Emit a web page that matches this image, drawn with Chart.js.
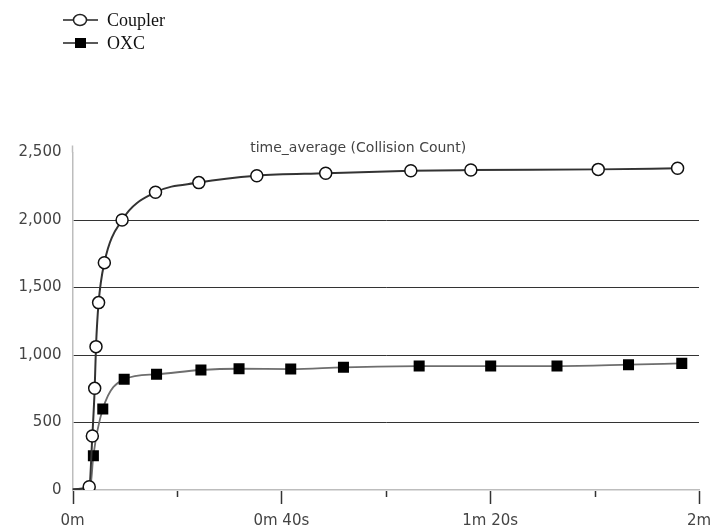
<!DOCTYPE html>
<html>
<head>
<meta charset="utf-8">
<script src="https://cdn.jsdelivr.net/npm/chart.js@4.4.1/dist/chart.umd.min.js"></script>
<style>
  html, body { margin: 0; padding: 0; background: #fff; }
  #wrap { width: 716px; height: 531px; position: relative; }
</style>
</head>
<body>
<div id="wrap"><canvas id="chart"></canvas></div>
<script>
// Datos (tiempo en segundos, conteo de colisiones)
const seriesNames = ['Coupler', 'OXC'];
const couplerTime = [0, 3.2, 3.8, 4.25, 4.5, 5.0, 6.1, 9.5, 15.9, 24.2, 35.3, 48.5, 64.8, 76.3, 100.7, 115.9];
const couplerCount = [5, 24, 400, 753, 1062, 1388, 1684, 2000, 2205, 2277, 2328, 2346, 2365, 2370, 2375, 2383];
const oxcTime = [0, 3.4, 4.0, 5.8, 9.9, 16.1, 24.6, 31.9, 41.8, 51.9, 66.4, 80.1, 92.8, 106.5, 116.7];
const oxcCount = [5, 20, 254, 600, 820, 857, 889, 898, 896, 909, 918, 918, 918, 928, 938];
// puntos iniciales sin marcador
const couplerUnmarked = 1;
const oxcUnmarked = 2;

const xTickValues = [0, 20, 40, 60, 80, 100, 120];
const xTickLabels = ['0m', '', '0m 40s', '', '1m 20s', '', '2m'];
const yTicks = [0, 500, 1000, 1500, 2000, 2500];
const chartTitle = 'time_average (Collision Count)';

function toPoints(xs, ys) {
    return xs.map((x, i) => ({ x: x, y: ys[i] }));
}

// Título dentro del área, arriba
const titlePlugin = {
    id: 'innerTitle',
    afterDraw(chart) {
        const { ctx, chartArea } = chart;
        ctx.save();
        ctx.font = '14px "DejaVu Sans"';
        ctx.fillStyle = '#444';
        ctx.textAlign = 'center';
        ctx.textBaseline = 'middle';
        const cx = chartArea.left + (chartArea.right - chartArea.left) * 0.456;
        ctx.fillText(chartTitle, cx, chartArea.top - 4);
        ctx.restore();
    }
};

// Marcas del eje X (mayores con etiqueta, menores sin ella)
const tickMarksPlugin = {
    id: 'tickMarks',
    afterDraw(chart) {
        const { ctx, chartArea } = chart;
        const xs = chart.scales.x;
        ctx.save();
        ctx.strokeStyle = '#333';
        ctx.lineWidth = 1.5;
        xTickValues.forEach((v, i) => {
            const px = Math.round(xs.getPixelForValue(v)) + 0.5;
            const len = xTickLabels[i] ? 13 : 6;
            ctx.beginPath();
            ctx.moveTo(px, chartArea.bottom + 1);
            ctx.lineTo(px, chartArea.bottom + 1 + len);
            ctx.stroke();
        });
        // el eje Y sobresale un poco por arriba
        ctx.strokeStyle = '#bdbdbd';
        ctx.beginPath();
        ctx.moveTo(chartArea.left, chartArea.top - 7);
        ctx.lineTo(chartArea.left, chartArea.top);
        ctx.stroke();
        ctx.restore();
    }
};

// Leyenda arriba a la izquierda
const legendPlugin = {
    id: 'topLegend',
    afterDraw(chart) {
        const ctx = chart.ctx;
        const rows = [20, 43];
        ctx.save();
        chart.data.datasets.forEach((ds, i) => {
            const y = rows[i];
            ctx.strokeStyle = '#222';
            ctx.lineWidth = 1.5;
            ctx.beginPath();
            ctx.moveTo(63, y);
            ctx.lineTo(98, y);
            ctx.stroke();
            if (i === 0) {
                ctx.beginPath();
                ctx.ellipse(80, y, 6.5, 5.5, 0, 0, Math.PI * 2);
                ctx.fillStyle = '#fff';
                ctx.fill();
                ctx.stroke();
            } else {
                ctx.fillStyle = '#000';
                ctx.fillRect(75, y - 5, 11, 10);
            }
            ctx.fillStyle = '#111';
            ctx.font = '18px "Liberation Serif"';
            ctx.textAlign = 'left';
            ctx.textBaseline = 'middle';
            ctx.fillText(ds.label, 107, y + 1);
        });
        ctx.restore();
    }
};

const ctx = document.getElementById('chart').getContext('2d');
new Chart(ctx, {
    type: 'line',
    data: {
        datasets: [{
            label: seriesNames[0],
            data: toPoints(couplerTime, couplerCount),
            borderColor: '#333',
            borderWidth: 2,
            cubicInterpolationMode: 'monotone',
            pointStyle: 'circle',
            pointRadius: c => c.dataIndex < couplerUnmarked ? 0 : 6,
            pointBackgroundColor: '#fff',
            pointBorderColor: '#111',
            pointBorderWidth: 1.5
        }, {
            label: seriesNames[1],
            data: toPoints(oxcTime, oxcCount),
            borderColor: '#6e6e6e',
            borderWidth: 1.8,
            cubicInterpolationMode: 'monotone',
            pointStyle: 'rect',
            pointRadius: c => c.dataIndex < oxcUnmarked ? 0 : 7.8,
            pointBackgroundColor: '#000',
            pointBorderColor: '#000',
            pointBorderWidth: 0
        }]
    },
    options: {
        responsive: true,
        maintainAspectRatio: false,
        animation: false,
        layout: { padding: { left: 12.5, right: 0, top: 152.5, bottom: 0 } },
        plugins: {
            legend: { display: false },
            title: { display: false },
            tooltip: { enabled: false }
        },
        scales: {
            x: {
                type: 'linear',
                min: 0,
                max: 120,
                afterBuildTicks: axis => { axis.ticks = xTickValues.map(v => ({ value: v })); },
                afterFit: axis => {
                    axis.height = 41;
                    axis.paddingLeft = 0;
                    axis.paddingRight = 17;
                },
                ticks: {
                    autoSkip: false,
                    maxRotation: 0,
                    padding: 22,
                    color: '#444',
                    font: { family: 'DejaVu Sans', size: 15 },
                    callback: (v) => xTickLabels[xTickValues.indexOf(v)]
                },
                grid: { display: false, drawTicks: false },
                border: { display: true, color: '#bdbdbd', width: 1.5 }
            },
            y: {
                min: 0,
                max: 2500,
                afterBuildTicks: axis => { axis.ticks = yTicks.map(v => ({ value: v })); },
                afterFit: axis => { axis.width = 60; },
                ticks: {
                    padding: 11,
                    color: '#444',
                    font: { family: 'DejaVu Sans', size: 15 },
                    callback: v => v.toLocaleString('en-US')
                },
                grid: {
                    drawTicks: false,
                    color: c => (c.tick && (c.tick.value === 0 || c.tick.value === 2500)) ? 'rgba(0,0,0,0)' : '#333',
                    lineWidth: 1
                },
                border: { display: true, color: '#bdbdbd', width: 1.5 }
            }
        }
    },
    plugins: [titlePlugin, tickMarksPlugin, legendPlugin]
});
</script>
</body>
</html>
